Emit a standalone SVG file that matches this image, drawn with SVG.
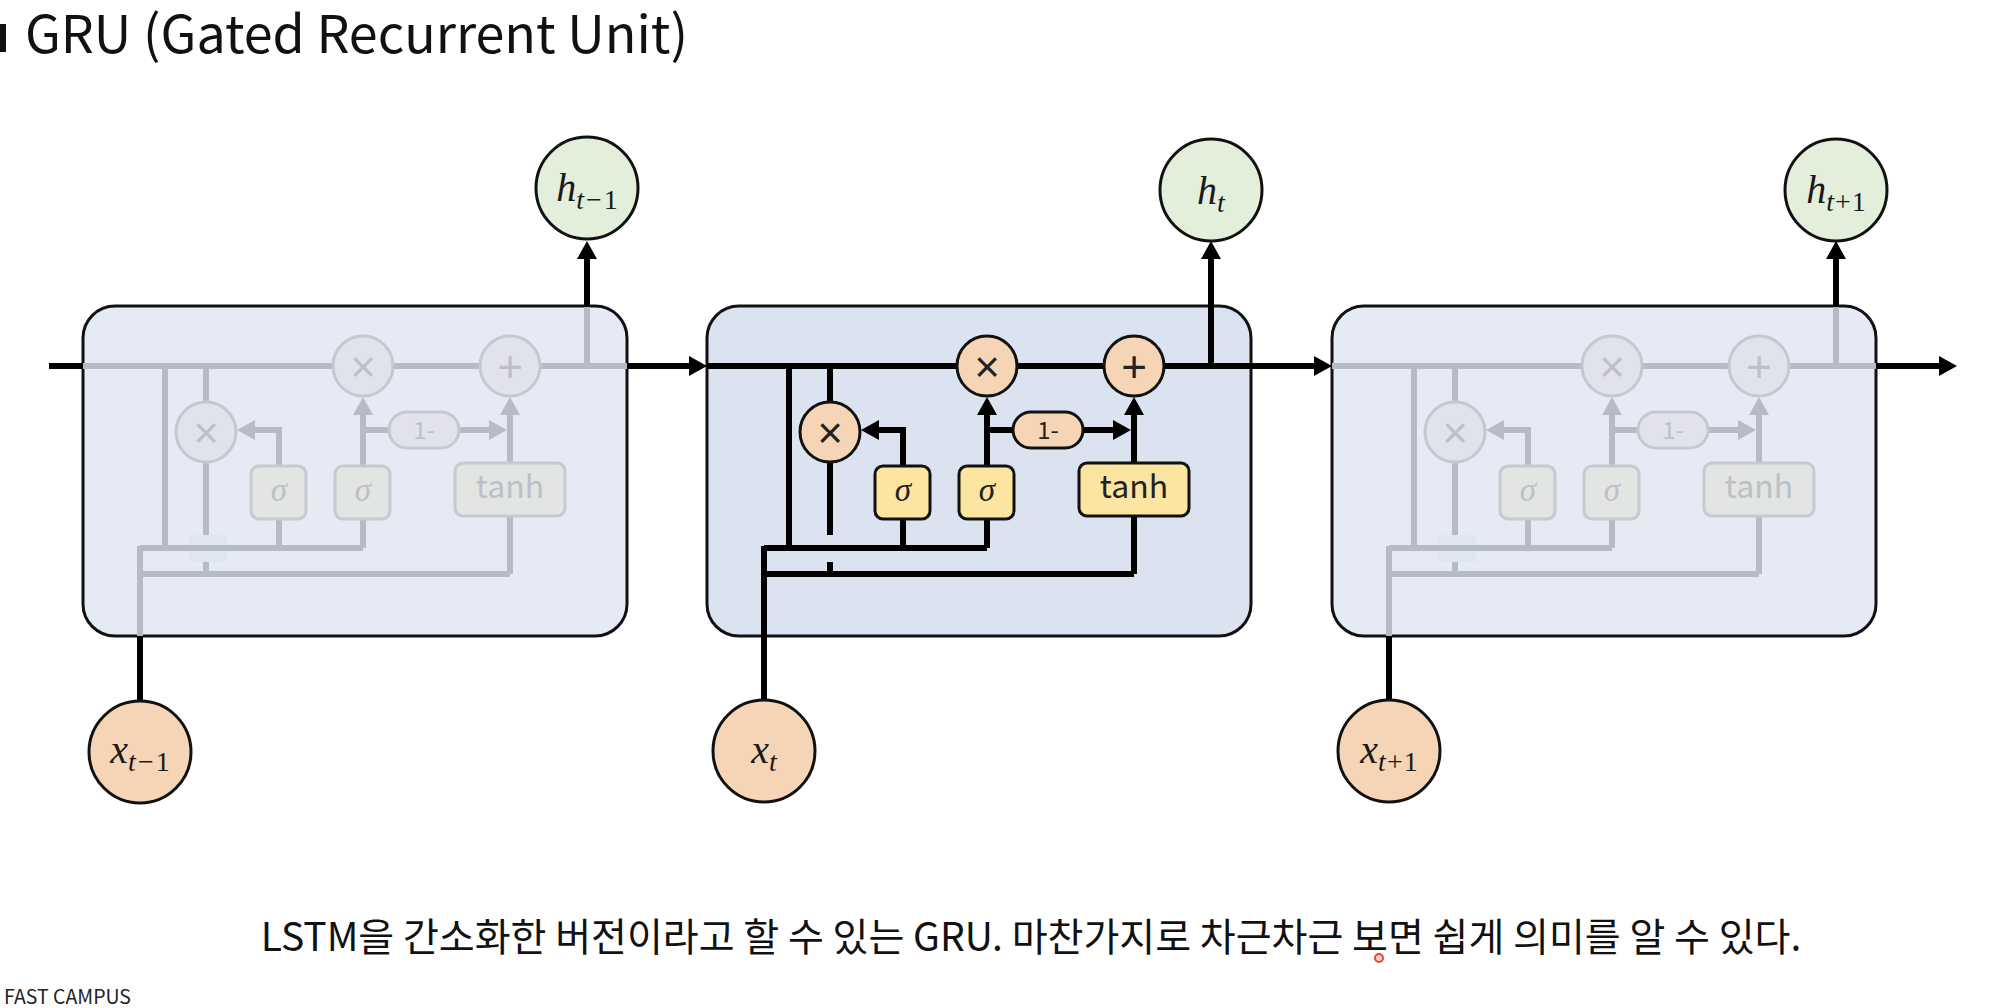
<svg xmlns="http://www.w3.org/2000/svg" width="1996" height="1008" viewBox="0 0 1996 1008">
  <style>
    .boxm{fill:#dce3f0;stroke:#111;stroke-width:3}
    .boxf{fill:#e5eaf4;stroke:#111;stroke-width:3}
    .ln{fill:none;stroke:#000;stroke-width:6}
    .lnf{fill:none;stroke:#b6bbc6;stroke-width:6}
    .op{fill:#f6d5b6;stroke:#111;stroke-width:3}
    .opf{fill:#e2e3ea;stroke:#c4c8d0;stroke-width:3}
    .gate{fill:#fbe5a0;stroke:#111;stroke-width:3}
    .gatef{fill:#e3e5e2;stroke:#c6cad1;stroke-width:3}
    .hnode{fill:#e3eedb;stroke:#111;stroke-width:3}
    .xnode{fill:#f6d5b6;stroke:#111;stroke-width:3}
    .sym{font-family:"Liberation Sans",Arial,sans-serif;font-size:44px;text-anchor:middle}
    .sig{font-family:"Liberation Serif",serif;font-style:italic;font-size:33px;text-anchor:middle}
    .fn{font-family:"Noto Sans CJK KR","Noto Sans",sans-serif;text-anchor:middle}
    .math{font-family:"Liberation Serif",serif;font-size:40px;text-anchor:middle;fill:#1a1a1a}
    .sub{font-size:28px}
    .ink{fill:#222}
    .inkf{fill:#bcc0c8}
    .patch{fill:#dfe6f3}
  </style>
  <defs>
    <marker id="ab" markerUnits="userSpaceOnUse" markerWidth="18" markerHeight="20" refX="0" refY="10" orient="auto">
      <path d="M0,0 L18,10 L0,20 z" fill="#000"/>
    </marker>
    <marker id="ag" markerUnits="userSpaceOnUse" markerWidth="18" markerHeight="20" refX="0" refY="10" orient="auto">
      <path d="M0,0 L18,10 L0,20 z" fill="#b6bbc6"/>
    </marker>
  </defs>
  <rect width="1996" height="1008" fill="#fff"/>

  <!-- title -->
  <g id="title">
    <rect x="0" y="24" width="6" height="28" fill="#111"/>
    <text x="25" y="53" font-family="'Noto Sans CJK KR','Noto Sans',sans-serif" font-size="52" fill="#111">GRU (Gated Recurrent Unit)</text>
  </g>

  <!-- cell boxes -->
  <g id="cell-prev"><rect class="boxf" x="83" y="306" width="544" height="330" rx="32"/></g>
  <g id="cell-curr"><rect class="boxm" x="707" y="306" width="544" height="330" rx="32"/></g>
  <g id="cell-next"><rect class="boxf" x="1332" y="306" width="544" height="330" rx="32"/></g>

  <!-- connectors -->
  <g id="connectors">
    <!-- main hidden-state line -->
    <path class="ln" d="M49,366 H84"/>
    <path class="ln" d="M627,366 H689" marker-end="url(#ab)"/>
    <path class="ln" d="M707,366 H1251"/>
    <path class="ln" d="M1251,366 H1314" marker-end="url(#ab)"/>
    <path class="ln" d="M1876,366 H1939" marker-end="url(#ab)"/>

    <!-- current cell internals -->
    <path class="ln" d="M789,366 V548"/>
    <path class="ln" d="M830,366 V535"/>
    <path class="ln" d="M830,562 V574"/>
    <path class="ln" d="M764,548 H987"/>
    <path class="ln" d="M764,574 H1134"/>
    <path class="ln" d="M764,700 V546"/>
    <path class="ln" d="M903,548 V519"/>
    <path class="ln" d="M903,466 V430 H879" marker-end="url(#ab)"/>
    <path class="ln" d="M987,548 V519"/>
    <path class="ln" d="M987,466 V415" marker-end="url(#ab)"/>
    <path class="ln" d="M987,430 H1013"/>
    <path class="ln" d="M1083,430 H1113" marker-end="url(#ab)"/>
    <path class="ln" d="M1134,574 V516"/>
    <path class="ln" d="M1134,463 V415" marker-end="url(#ab)"/>
    <path class="ln" d="M1211,369 V259" marker-end="url(#ab)"/>

    <!-- faded cells internals -->
    <g transform="translate(-624,0)">
      <path class="lnf" d="M707,366 H1251"/>
      <path class="lnf" d="M789,366 V548"/>
      <path class="lnf" d="M830,366 V535"/>
      <path class="lnf" d="M830,562 V574"/>
      <rect class="patch" x="813" y="535" width="38" height="27"/>
      <path class="lnf" d="M764,548 H987"/>
      <path class="lnf" d="M764,574 H1134"/>
      <path class="lnf" d="M764,636 V546"/>
      <path class="ln" d="M764,700 V636"/>
      <path class="lnf" d="M903,548 V519"/>
      <path class="lnf" d="M903,466 V430 H879" marker-end="url(#ag)"/>
      <path class="lnf" d="M987,548 V519"/>
      <path class="lnf" d="M987,466 V415" marker-end="url(#ag)"/>
      <path class="lnf" d="M987,430 H1013"/>
      <path class="lnf" d="M1083,430 H1113" marker-end="url(#ag)"/>
      <path class="lnf" d="M1134,574 V516"/>
      <path class="lnf" d="M1134,463 V415" marker-end="url(#ag)"/>
      <path class="lnf" d="M1211,369 V307"/>
      <path class="ln" d="M1211,307 V259" marker-end="url(#ab)"/>
    </g>
    <g transform="translate(625,0)">
      <path class="lnf" d="M707,366 H1251"/>
      <path class="lnf" d="M789,366 V548"/>
      <path class="lnf" d="M830,366 V535"/>
      <path class="lnf" d="M830,562 V574"/>
      <rect class="patch" x="813" y="535" width="38" height="27"/>
      <path class="lnf" d="M764,548 H987"/>
      <path class="lnf" d="M764,574 H1134"/>
      <path class="lnf" d="M764,636 V546"/>
      <path class="ln" d="M764,700 V636"/>
      <path class="lnf" d="M903,548 V519"/>
      <path class="lnf" d="M903,466 V430 H879" marker-end="url(#ag)"/>
      <path class="lnf" d="M987,548 V519"/>
      <path class="lnf" d="M987,466 V415" marker-end="url(#ag)"/>
      <path class="lnf" d="M987,430 H1013"/>
      <path class="lnf" d="M1083,430 H1113" marker-end="url(#ag)"/>
      <path class="lnf" d="M1134,574 V516"/>
      <path class="lnf" d="M1134,463 V415" marker-end="url(#ag)"/>
      <path class="lnf" d="M1211,369 V307"/>
      <path class="ln" d="M1211,307 V259" marker-end="url(#ab)"/>
    </g>
  </g>

  <!-- current cell operators and gates -->
  <g id="curr-reset-mul"><circle class="op" cx="830" cy="432" r="30"/><text class="sym ink" x="830" y="448">×</text></g>
  <g id="curr-update-mul"><circle class="op" cx="987" cy="366" r="30"/><text class="sym ink" x="987" y="382">×</text></g>
  <g id="curr-add"><circle class="op" cx="1134" cy="366" r="30"/><text class="sym ink" x="1134" y="382">+</text></g>
  <g id="curr-one-minus"><rect class="op" x="1013" y="412" width="70" height="36" rx="18"/><text class="fn ink" x="1048" y="439" font-size="24">1-</text></g>
  <g id="curr-sigma-r"><rect class="gate" x="875" y="466" width="55" height="53" rx="8"/><text class="sig ink" x="903" y="501">σ</text></g>
  <g id="curr-sigma-z"><rect class="gate" x="959" y="466" width="55" height="53" rx="8"/><text class="sig ink" x="987" y="501">σ</text></g>
  <g id="curr-tanh"><rect class="gate" x="1079" y="463" width="110" height="53" rx="8"/><text class="fn ink" x="1134" y="498" font-size="32">tanh</text></g>

  <!-- faded previous cell -->
  <g id="prev-internals" transform="translate(-624,0)">
    <g><circle class="opf" cx="830" cy="432" r="30"/><text class="sym inkf" x="830" y="448">×</text></g>
    <g><circle class="opf" cx="987" cy="366" r="30"/><text class="sym inkf" x="987" y="382">×</text></g>
    <g><circle class="opf" cx="1134" cy="366" r="30"/><text class="sym inkf" x="1134" y="382">+</text></g>
    <g><rect class="opf" x="1013" y="412" width="70" height="36" rx="18"/><text class="fn inkf" x="1048" y="439" font-size="24">1-</text></g>
    <g><rect class="gatef" x="875" y="466" width="55" height="53" rx="8"/><text class="sig inkf" x="903" y="501">σ</text></g>
    <g><rect class="gatef" x="959" y="466" width="55" height="53" rx="8"/><text class="sig inkf" x="987" y="501">σ</text></g>
    <g><rect class="gatef" x="1079" y="463" width="110" height="53" rx="8"/><text class="fn inkf" x="1134" y="498" font-size="32">tanh</text></g>
  </g>

  <!-- faded next cell -->
  <g id="next-internals" transform="translate(625,0)">
    <g><circle class="opf" cx="830" cy="432" r="30"/><text class="sym inkf" x="830" y="448">×</text></g>
    <g><circle class="opf" cx="987" cy="366" r="30"/><text class="sym inkf" x="987" y="382">×</text></g>
    <g><circle class="opf" cx="1134" cy="366" r="30"/><text class="sym inkf" x="1134" y="382">+</text></g>
    <g><rect class="opf" x="1013" y="412" width="70" height="36" rx="18"/><text class="fn inkf" x="1048" y="439" font-size="24">1-</text></g>
    <g><rect class="gatef" x="875" y="466" width="55" height="53" rx="8"/><text class="sig inkf" x="903" y="501">σ</text></g>
    <g><rect class="gatef" x="959" y="466" width="55" height="53" rx="8"/><text class="sig inkf" x="987" y="501">σ</text></g>
    <g><rect class="gatef" x="1079" y="463" width="110" height="53" rx="8"/><text class="fn inkf" x="1134" y="498" font-size="32">tanh</text></g>
  </g>

  <!-- outputs h -->
  <g id="h-prev"><circle class="hnode" cx="587" cy="188" r="51"/><text class="math" x="587" y="201"><tspan font-style="italic">h</tspan><tspan class="sub" dy="8" font-style="italic">t</tspan><tspan class="sub" dx="2">−</tspan><tspan class="sub" dx="2">1</tspan></text></g>
  <g id="h-curr"><circle class="hnode" cx="1211" cy="190" r="51"/><text class="math" x="1211" y="204"><tspan font-style="italic">h</tspan><tspan class="sub" dy="8" font-style="italic">t</tspan></text></g>
  <g id="h-next"><circle class="hnode" cx="1836" cy="190" r="51"/><text class="math" x="1836" y="203"><tspan font-style="italic">h</tspan><tspan class="sub" dy="8" font-style="italic">t</tspan><tspan class="sub" dx="1">+</tspan><tspan class="sub" dx="1">1</tspan></text></g>

  <!-- inputs x -->
  <g id="x-prev"><circle class="xnode" cx="140" cy="752" r="51"/><text class="math" x="140" y="763"><tspan font-style="italic">x</tspan><tspan class="sub" dy="8" font-style="italic">t</tspan><tspan class="sub" dx="2">−</tspan><tspan class="sub" dx="2">1</tspan></text></g>
  <g id="x-curr"><circle class="xnode" cx="764" cy="751" r="51"/><text class="math" x="764" y="763"><tspan font-style="italic">x</tspan><tspan class="sub" dy="8" font-style="italic">t</tspan></text></g>
  <g id="x-next"><circle class="xnode" cx="1389" cy="751" r="51"/><text class="math" x="1389" y="763"><tspan font-style="italic">x</tspan><tspan class="sub" dy="8" font-style="italic">t</tspan><tspan class="sub" dx="1">+</tspan><tspan class="sub" dx="1">1</tspan></text></g>

  <!-- caption -->
  <g id="caption">
    <text x="1031" y="951" font-family="'Noto Sans CJK KR',sans-serif" font-size="39" text-anchor="middle" fill="#111">LSTM을 간소화한 버전이라고 할 수 있는 GRU. 마찬가지로 차근차근 보면 쉽게 의미를 알 수 있다.</text>
    <circle cx="1379" cy="958" r="4" fill="#fbd3c8" stroke="#e8452e" stroke-width="2"/>
    <text x="4" y="1004" font-family="'Noto Sans CJK KR',sans-serif" font-size="19.5" fill="#222">FAST CAMPUS</text>
  </g>
</svg>
